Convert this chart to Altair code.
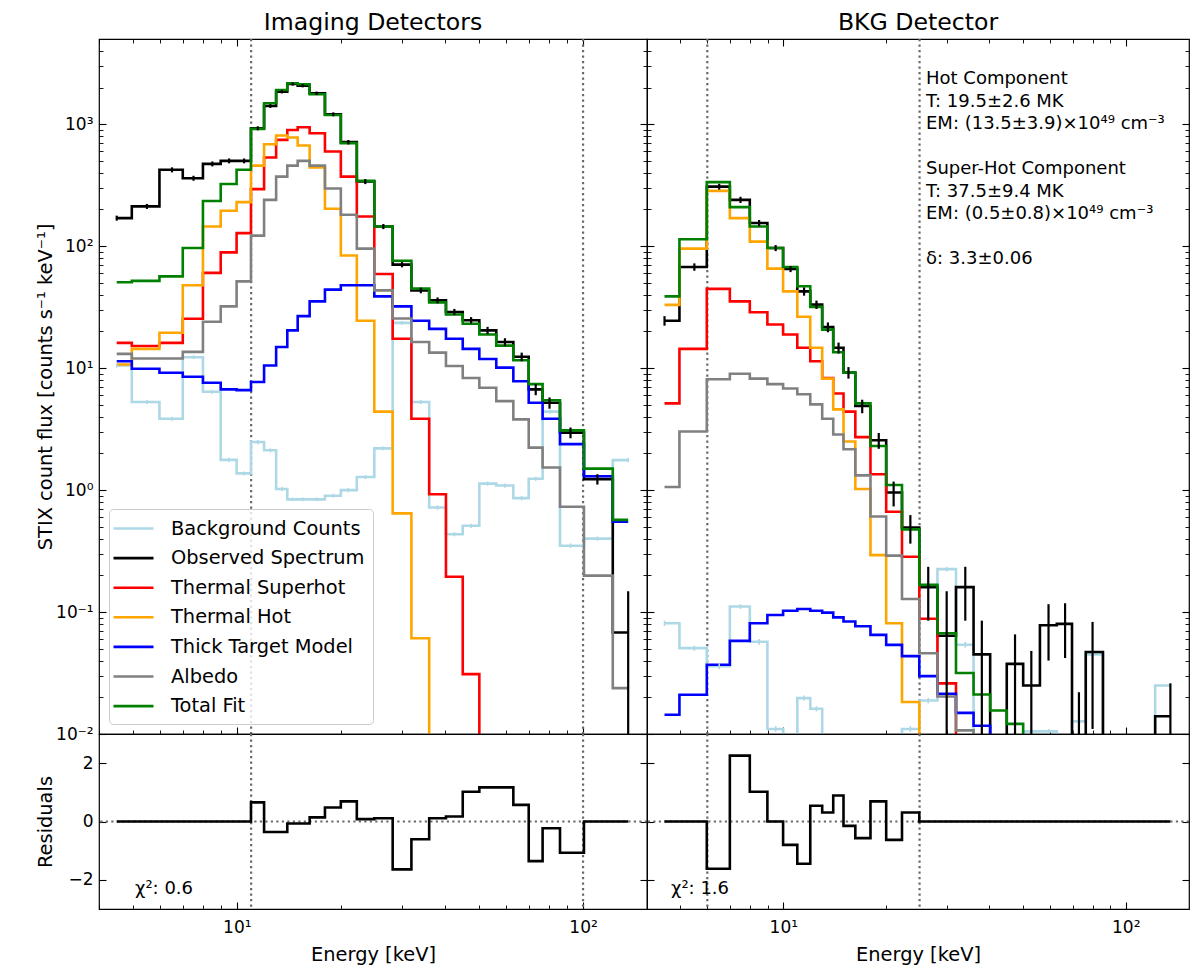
import altair as alt
import pandas as pd

# STIX science channel centres (keV)
energy = [4.5, 5.5, 6.5, 7.5, 8.5, 9.5, 10.5, 11.5, 12.5, 13.5, 14.5, 15.5, 17, 19, 21,
          23.5, 26.5, 30, 34, 38, 42.5, 47.5, 53, 59.5, 66.5, 73, 80, 92, 110, 135]

# ---- imaging detectors ----
img_background = [10.5, 5.27, 3.85, 12.3, 6.4, 1.77, 1.37, 2.48, 2.12, 1.02, 0.84, 0.84, 0.84, 0.90, 1.0,
                  1.28, 2.20, 23.5, 5.27, 0.72, 0.435, 0.51, 1.13, 1.09, 0.86, 1.24, 4.40, 0.35, 0.40, 1.76]
img_background_err = [0.4, 0.2, 0.15, 0.45, 0.25, 0.07, 0.05, 0.1, 0.08, 0.04, 0.03, 0.03, 0.03, 0.035, 0.04,
                      0.05, 0.08, 0.8, 0.2, 0.03, 0.017, 0.02, 0.045, 0.045, 0.035, 0.05, 0.17, 0.015, 0.016, 0.07]
img_observed = [170, 212, 423, 361, 473, 501, 501, 927, 1412, 1849, 2138, 2070, 1795, 1207, 713,
                339, 145, 70.6, 43.4, 36, 28.9, 24.7, 20.4, 16.4, 12.4, 6.7, 5.2, 2.96, 1.23, 0.068]
img_observed_err = [8, 10, 20, 17, 22, 23, 23, 35, 50, 60, 65, 63, 58, 45, 30,
                    16, 7, 3.5, 2.3, 2.0, 1.7, 1.5, 1.4, 1.2, 1.0, 0.7, 0.55, 0.3, 0.12, 0.08]
img_superhot = [16.1, 15.2, 16.1, 25.4, 60.4, 89, 128, 294, 533, 745, 898, 945, 843, 597, 372,
                175, 59.2, 17.4, 3.85, 0.925, 0.195, 0.031, 0, 0, 0, 0, 0, 0, 0, 0]
img_hot = [10.7, 14.4, 19.5, 47.8, 145, 195, 230, 458, 686, 808, 778, 670, 442, 203, 84,
           24.5, 4.40, 0.644, 0.061, 0, 0, 0, 0, 0, 0, 0, 0, 0, 0, 0]
img_thick = [11.4, 9.9, 9.17, 8.5, 7.6, 6.7, 6.6, 7.7, 10.5, 14.9, 20.4, 26.7, 35.3, 44, 47.8,
             47.8, 38.8, 32.1, 24.5, 21, 17.4, 14.4, 11.9, 10.1, 7.8, 5.2, 3.85, 2.38, 1.3, 0.55]
img_albedo = [13.1, 12.0, 12.0, 13.6, 24, 32.1, 51.5, 122, 240, 372, 458, 501, 458, 297, 181,
              95.5, 43.4, 25.5, 16.4, 13.4, 10.4, 8.3, 6.9, 5.37, 3.80, 2.23, 1.53, 0.73, 0.199, 0.0238]
img_total = [50.6, 52, 56.6, 96.6, 235, 324, 423, 916, 1485, 1909, 2166, 2128, 1760, 1191, 700,
             343, 145, 76, 44.9, 34.6, 27.5, 23.1, 18.9, 15.3, 11.6, 7.4, 5.45, 3.09, 1.50, 0.57]
img_residuals = [0, 0, 0, 0, 0, 0, 0, 0.655, -0.36, -0.36, -0.07, -0.07, 0.14, 0.48, 0.69,
                 0.08, 0.11, -1.64, -0.61, 0.11, 0.17, 1.02, 1.17, 1.17, 0.57, -1.36, -0.23, -1.07, 0, 0]
img_fit_range = [11, 100]

# ---- BKG detector ----
bkg_background = [0.081, 0.0506, 0.036, 0.111, 0.057, 0.011, 0, 0.0197, 0.0161, 0, 0, 0, 0, 0, 0,
                  0.011, 0.0188, 0.225, 0.054, 0, 0, 0, 0.0105, 0.0105, 0, 0.0127, 0.045, 0, 0, 0.025]
bkg_background_err = [0.004, 0.0025, 0.002, 0.005, 0.003, 0.0006, 0, 0.001, 0.0008, 0, 0, 0, 0, 0, 0,
                      0.0006, 0.001, 0.01, 0.003, 0, 0, 0, 0.0005, 0.0005, 0, 0.0006, 0.002, 0, 0, 0.0012]
bkg_observed = [24.5, 67.6, 308, 240, 155, 96.6, 65, 42.6, 33.2, 21.7, 14.7, 9.2, 4.89, 2.56, 0.955,
                0.494, 0.160, 0.064, 0.160, 0.045, 0, 0.0376, 0.025, 0.078, 0.080, 0, 0.047, 0, 0, 0.014]
bkg_observed_err = [2.2, 4.7, 17, 14, 9, 5.5, 3.7, 3.3, 2.6, 2.0, 1.5, 1.0, 0.62, 0.38, 0.22,
                    0.13, 0.075, 0.084, 0.075, 0.04, 0, 0.028, 0.023, 0.038, 0.038, 0.022, 0.036, 0, 0, 0.012]
bkg_superhot = [5.14, 14.4, 44.7, 35.3, 28.7, 22.8, 18.9, 14.7, 11.4, 8.3, 6.2, 4.40, 2.72, 1.35, 0.664,
                0.284, 0.088, 0.026, 0, 0, 0, 0, 0, 0, 0, 0, 0, 0, 0, 0]
bkg_hot = [33, 95.5, 284, 170, 109, 65.5, 42.6, 26.4, 14.7, 8.2, 4.59, 2.50, 1.02, 0.293, 0.081,
           0.0183, 0, 0, 0, 0, 0, 0, 0, 0, 0, 0, 0, 0, 0, 0]
bkg_thick = [0.0144, 0.021, 0.037, 0.058, 0.081, 0.0946, 0.1026, 0.106, 0.1026, 0.099, 0.0905, 0.0836,
             0.0765, 0.065, 0.0538, 0.0435, 0.0298, 0.0214, 0.0149, 0.0117, 0, 0, 0, 0, 0, 0, 0, 0, 0, 0]
bkg_albedo = [1.06, 3.02, 8.1, 9.0, 8.2, 7.4, 6.8, 6.1, 5.05, 3.85, 2.86, 2.16, 1.32, 0.608, 0.29,
              0.128, 0.046, 0.0203, 0.0107, 0, 0, 0, 0, 0, 0, 0, 0, 0, 0, 0]
bkg_total = [38.8, 114, 335, 209, 145, 96.6, 67.6, 46.9, 31.8, 20.7, 13.5, 9.2, 5.14, 2.30, 1.10,
             0.476, 0.167, 0.067, 0.0316, 0.0211, 0.0156, 0.0121, 0, 0, 0, 0, 0, 0, 0, 0]
bkg_residuals = [0, 0, -1.62, 2.26, 1.02, 0.0, -0.80, -1.45, 0.54, 0.31, 0.89, -0.15, -0.57, 0.69, -0.63,
                 0.31, 0, 0, 0, 0, 0, 0, 0, 0, 0, 0, 0, 0, 0, 0]
bkg_fit_range = [6, 25]

chi2 = [0.6, 1.6]
fit_notes = [
    ["Hot Component", "T: 19.5±2.6 MK", "EM: (13.5±3.9)×10⁴⁹ cm⁻³"],
    ["Super-Hot Component", "T: 37.5±9.4 MK", "EM: (0.5±0.8)×10⁴⁹ cm⁻³"],
    ["δ: 3.3±0.06"],
]

series_names = ["Background Counts", "Observed Spectrum", "Thermal Superhot", "Thermal Hot",
                "Thick Target Model", "Albedo", "Total Fit"]
series_colors = ["lightblue", "black", "red", "orange", "blue", "gray", "green"]

x_major = [10, 100]
x_minor = [4, 5, 6, 7, 8, 9, 20, 30, 40, 50, 60, 70, 80, 90]
y_major = [0.01, 0.1, 1, 10, 100, 1000]
y_minor = [round(k * 10.0 ** p, 4) for p in range(-2, 4) for k in range(2, 10) if k * 10.0 ** p < 5000]
r_major = [-2, 0, 2]

FONT = "DejaVu Sans"
FLOOR = 1e-6  # zeros sit far below the log axis and get clipped
MAIN_H, RES_H = 695, 175
LINE_H = 22.5
DOT = dict(color="#6a6a6a", strokeDash=[2.2, 3.3], strokeWidth=2.2)

x_scale = alt.Scale(type="log", domain=[4, 153], nice=False)
y_scale = alt.Scale(type="log", domain=[0.01, 5000], nice=False)
r_scale = alt.Scale(domain=[-3, 3], nice=False)
color_scale = alt.Scale(domain=series_names, range=series_colors)

X_POW = "datum.value < 50 ? '10¹' : '10²'"
Y_POW = ("datum.value < 0.05 ? '10⁻²' : datum.value < 0.5 ? '10⁻¹' : datum.value < 5 ? '10⁰' : "
         "datum.value < 50 ? '10¹' : datum.value < 500 ? '10²' : '10³'")


def ticks(orient, values, length, labels=False, **kw):
    # inward ticks, matplotlib style
    kw.setdefault("title", None)
    kw.setdefault("labelPadding", length + 6)
    return alt.Axis(orient=orient, values=values, tickSize={"expr": str(-length)},
                    tickColor="black", tickWidth=1.1 if length > 5 else 0.9,
                    domain=False, grid=False, labels=labels, **kw)


def axis_carriers(frame, yfield, yscale, pairs):
    out = []
    for xa, ya in pairs:
        out.append(alt.Chart(frame).mark_point(opacity=0, clip=True).encode(
            x=alt.X("energy:Q", scale=x_scale, axis=xa),
            y=alt.Y(f"{yfield}:Q", scale=yscale, axis=ya)))
    return out


def fit_lines(fit_range):
    return alt.Chart(pd.DataFrame({"energy": fit_range})).mark_rule(**DOT).encode(
        x=alt.X("energy:Q", scale=x_scale, axis=None))


def errbars(values, errs, color, width):
    df = pd.DataFrame({
        "energy": energy,
        "lo": [max(v - e, FLOOR) for v, e in zip(values, errs)],
        "hi": [max(v + e, FLOOR) for v, e in zip(values, errs)],
    })
    return alt.Chart(df).mark_rule(color=color, strokeWidth=width, clip=True).encode(
        x=alt.X("energy:Q", scale=x_scale, axis=None),
        y=alt.Y("lo:Q", scale=y_scale, axis=None),
        y2="hi:Q")


def spectrum_panel(curves, bkg_err, obs_err, fit_range, title, width, left):
    rows = []
    for name, values in zip(series_names, curves):
        for e, v in zip(energy, values):
            rows.append({"energy": e, "flux": max(v, FLOOR), "series": name})
    frame = pd.DataFrame(rows)

    if left:
        legend = alt.Legend(title=None, orient="bottom-left", offset=10,
                            fillColor="rgba(255,255,255,0.8)", strokeColor="#cccccc",
                            cornerRadius=4, padding=8, symbolType="M-2,0L2,0", symbolSize=400,
                            symbolStrokeWidth=2.6, symbolOffset=5, labelFont=FONT,
                            labelFontSize=19.4, labelColor="black", labelOffset=26,
                            labelLimit=400, rowPadding=8.6)
    else:
        legend = None

    layers = [fit_lines(fit_range)]
    for name in series_names:
        layers.append(alt.Chart(frame[frame.series == name]).mark_line(
            interpolate="step", clip=True, strokeWidth=2.6
        ).encode(
            x=alt.X("energy:Q", scale=x_scale, axis=None),
            y=alt.Y("flux:Q", scale=y_scale, axis=None),
            color=alt.Color("series:N", scale=color_scale, legend=legend)))
    layers.append(errbars(curves[0], bkg_err, "lightblue", 1.6))
    layers.append(errbars(curves[1], obs_err, "black", 2.2))

    if not left:
        # three blocks, one blank line between them
        for i, block in enumerate(fit_notes):
            layers.append(alt.Chart(pd.DataFrame({"n": [i]})).mark_text(
                text=block, align="left", baseline="alphabetic", font=FONT, fontSize=18,
                lineHeight=LINE_H, color="black"
            ).encode(x=alt.value(279), y=alt.value(45 + 4 * LINE_H * i)))

    ylab = dict(labels=True, labelExpr=Y_POW,
                title="STIX count flux [counts s⁻¹ keV⁻¹]", titleX=-44) if left else {}
    visible = frame[frame.flux >= 0.01]
    layers += axis_carriers(visible, "flux", y_scale, [
        (ticks("bottom", x_major, 7), ticks("left", y_major, 7, **ylab)),
        (ticks("bottom", x_minor, 4), ticks("left", y_minor, 4)),
        (ticks("top", x_major, 7), ticks("right", y_major, 7)),
        (ticks("top", x_minor, 4), ticks("right", y_minor, 4)),
    ])
    return alt.layer(*layers).resolve_axis(x="independent", y="independent").properties(
        width=width, height=MAIN_H,
        title=alt.TitleParams(title, anchor="middle", fontSize=23.6, fontWeight="normal",
                              font=FONT, color="black", offset=3))


def residual_panel(resid, fit_range, chi, width, left):
    frame = pd.DataFrame({"energy": energy, "resid": resid})
    zero = alt.Chart(pd.DataFrame({"level": [0]})).mark_rule(**DOT).encode(
        y=alt.Y("level:Q", scale=r_scale, axis=None))
    line = alt.Chart(frame).mark_line(
        interpolate="step", color="black", strokeWidth=2.6, clip=True
    ).encode(
        x=alt.X("energy:Q", scale=x_scale, axis=None),
        y=alt.Y("resid:Q", scale=r_scale, axis=None))
    label = alt.Chart(pd.DataFrame({"label": [f"χ²: {chi}"]})).mark_text(
        align="left", baseline="middle", font=FONT, fontSize=18, color="black"
    ).encode(text="label:N", x=alt.value(36 if left else 24), y=alt.value(155))

    ylab = dict(labels=True, title="Residuals", titleX=-44) if left else {}
    carriers = axis_carriers(frame, "resid", r_scale, [
        (ticks("bottom", x_major, 7, labels=True, labelExpr=X_POW, labelPadding=17,
               title="Energy [keV]", titlePadding=10),
         ticks("left", r_major, 7, **ylab)),
        (ticks("bottom", x_minor, 4), None),
        (None, ticks("right", r_major, 7)),
    ])
    return alt.layer(fit_lines(fit_range), zero, line, label, *carriers).resolve_axis(
        x="independent", y="independent").properties(width=width, height=RES_H)


img_curves = [img_background, img_observed, img_superhot, img_hot, img_thick, img_albedo, img_total]
bkg_curves = [bkg_background, bkg_observed, bkg_superhot, bkg_hot, bkg_thick, bkg_albedo, bkg_total]

# 2x2 grid laid out on the plot areas only, so the panels share their frame lines
chart = alt.concat(
    spectrum_panel(img_curves, img_background_err, img_observed_err, img_fit_range,
                   "Imaging Detectors", 548, True),
    spectrum_panel(bkg_curves, bkg_background_err, bkg_observed_err, bkg_fit_range,
                   "BKG Detector", 542, False),
    residual_panel(img_residuals, img_fit_range, chi2[0], 548, True),
    residual_panel(bkg_residuals, bkg_fit_range, chi2[1], 542, False),
    columns=2, spacing=0, bounds="flush",
).resolve_scale(color="independent").resolve_legend(color="independent").properties(
    padding={"left": 26, "top": 2, "right": 0, "bottom": 3}
).configure(font=FONT).configure_view(
    stroke="black", strokeWidth=1.2
).configure_axis(
    labelFont=FONT, labelFontSize=17, labelColor="black",
    titleFont=FONT, titleFontSize=19.4, titleFontWeight="normal", titleColor="black"
)

chart.save("out.html", embed_options={"renderer": "svg", "actions": False})
